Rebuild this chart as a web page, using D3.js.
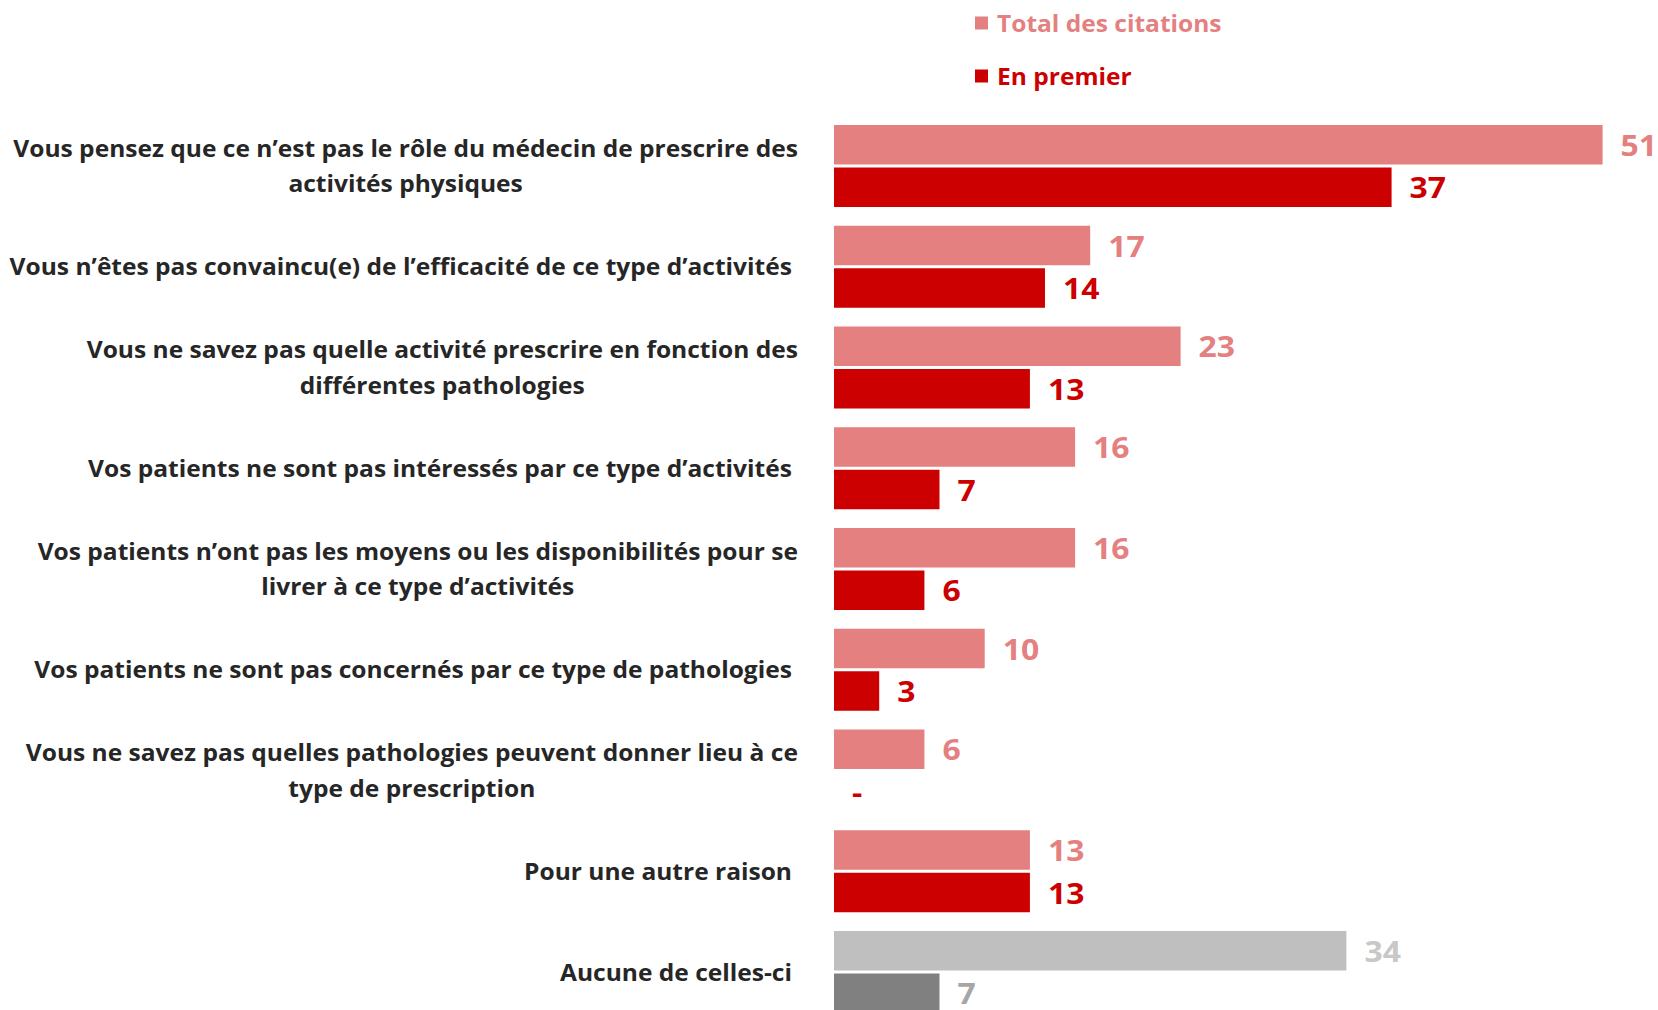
<!DOCTYPE html>
<html>
<head>
<meta charset="utf-8">
<script src="https://cdn.jsdelivr.net/npm/d3@7"></script>
<style>
  body { margin: 0; background: #fff; overflow: hidden; }
  text { font-family: "Open Sans", sans-serif; font-weight: bold; }
</style>
</head>
<body>
<div class="canvas"></div>
<script>
// what to show
var categories = [
    "Vous pensez que ce n’est pas le rôle du médecin de prescrire des activités physiques",
    "Vous n’êtes pas convaincu(e) de l’efficacité de ce type d’activités",
    "Vous ne savez pas quelle activité prescrire en fonction des différentes pathologies",
    "Vos patients ne sont pas intéressés par ce type d’activités",
    "Vos patients n’ont pas les moyens ou les disponibilités pour se livrer à ce type d’activités",
    "Vos patients ne sont pas concernés par ce type de pathologies",
    "Vous ne savez pas quelles pathologies peuvent donner lieu à ce type de prescription",
    "Pour une autre raison",
    "Aucune de celles-ci"
];
// how the category labels wrap
var labelLines = [
    ["Vous pensez que ce n’est pas le rôle du médecin de prescrire des", "activités physiques"],
    ["Vous n’êtes pas convaincu(e) de l’efficacité de ce type d’activités"],
    ["Vous ne savez pas quelle activité prescrire en fonction des", "différentes pathologies"],
    ["Vos patients ne sont pas intéressés par ce type d’activités"],
    ["Vos patients n’ont pas les moyens ou les disponibilités pour se", "livrer à ce type d’activités"],
    ["Vos patients ne sont pas concernés par ce type de pathologies"],
    ["Vous ne savez pas quelles pathologies peuvent donner lieu à ce", "type de prescription"],
    ["Pour une autre raison"],
    ["Aucune de celles-ci"]
];
var series = ["Total des citations", "En premier"];
var totalValues = [51, 17, 23, 16, 16, 10, 6, 13, 34];
var premierValues = [37, 14, 13, 7, 6, 3, 0, 13, 7];

// where does it live
var width = 1658,
    height = 1010;

var svg = d3.select('.canvas').append('svg')
    .attr('width', width)
    .attr('height', height);

var colors = {
    bar: ['#E48080', '#CC0000'],
    text: ['#E48080', '#CC0000'],
    greyBar: ['#BFBFBF', '#808080'],
    greyText: ['#C8C8C8', '#A6A6A6']
};

var data = categories.map(function (c, i) {
    return { cat: c, lines: labelLines[i], values: [totalValues[i], premierValues[i]] };
});

// scales
var x = d3.scaleLinear().domain([0, 55]).range([834, 834 + 55 * 15.07]);
var y = d3.scaleBand().domain(categories)
    .range([125, 125 + 100.75 * (categories.length - 0.186)])
    .paddingInner(0.186).paddingOuter(0);
var ySub = d3.scaleBand().domain(series)
    .range([0, y.bandwidth()])
    .paddingInner(0.0706).paddingOuter(0);

var isGrey = function (d) { return d.cat === "Aucune de celles-ci"; };

// bars
var groups = svg.selectAll('g.group')
    .data(data)
    .enter()
    .append('g')
    .attr('class', 'group')
    .attr('transform', function (d) { return 'translate(0,' + y(d.cat) + ')'; });

var pairs = function (d) {
    return series.map(function (s, j) { return { s: s, j: j, v: d.values[j], grey: isGrey(d) }; });
};

groups.selectAll('rect')
    .data(pairs)
    .enter()
    .append('rect')
    .attr('x', x(0))
    .attr('y', function (d) { return ySub(d.s); })
    .attr('width', function (d) { return x(d.v) - x(0); })
    .attr('height', ySub.bandwidth())
    .attr('fill', function (d) { return d.grey ? colors.greyBar[d.j] : colors.bar[d.j]; });

// value labels (stretched a little, original digits are wider)
groups.selectAll('text.val')
    .data(pairs)
    .enter()
    .append('text')
    .attr('class', 'val')
    .attr('transform', function (d) {
        return 'translate(' + (x(d.v) + 18) + ',' + (ySub(d.s) + ySub.bandwidth() / 2 + 11) + ') scale(1.14,1)';
    })
    .attr('font-size', 28)
    .attr('fill', function (d) { return d.grey ? colors.greyText[d.j] : colors.text[d.j]; })
    .text(function (d) { return d.v === 0 ? '-' : d.v; });

// category labels: block centred, block right-aligned
var labelFont = 24,
    lineGap = 36,
    labelRight = 798;

// fit the width of the original face
var probe = svg.append('text').attr('font-size', labelFont).text('Pour une autre raison');
var sx = 268 / probe.node().getComputedTextLength();
probe.remove();

groups.each(function (d) {
    var g = d3.select(this),
        cy = y.bandwidth() / 2,
        n = d.lines.length,
        right = n > 1 ? labelRight : labelRight - 6;
    var lab = g.append('g');
    var texts = lab.selectAll('text')
        .data(d.lines)
        .enter()
        .append('text')
        .attr('font-size', labelFont)
        .attr('fill', '#262626')
        .attr('text-anchor', 'middle')
        .attr('y', function (l, k) { return cy + (k - (n - 1) / 2) * lineGap + 8.5; })
        .text(function (l) { return l; });
    var maxW = 0;
    texts.each(function () { maxW = Math.max(maxW, this.getComputedTextLength()); });
    var w = maxW * sx;
    lab.attr('transform', 'translate(' + (right - w / 2) + ',0) scale(' + sx + ',1)');
});

// legend
var legend = svg.selectAll('g.legend')
    .data(series)
    .enter()
    .append('g')
    .attr('class', 'legend')
    .attr('transform', function (d, i) { return 'translate(975,' + (23 + i * 53) + ')'; });

legend.append('rect')
    .attr('x', 0)
    .attr('y', -6.5)
    .attr('width', 13)
    .attr('height', 13)
    .attr('fill', function (d, i) { return colors.bar[i]; });

legend.append('text')
    .attr('font-size', 24)
    .attr('fill', function (d, i) { return colors.text[i]; })
    .attr('transform', 'translate(22,8.5) scale(' + sx + ',1)')
    .text(function (d) { return d; });
</script>
</body>
</html>
